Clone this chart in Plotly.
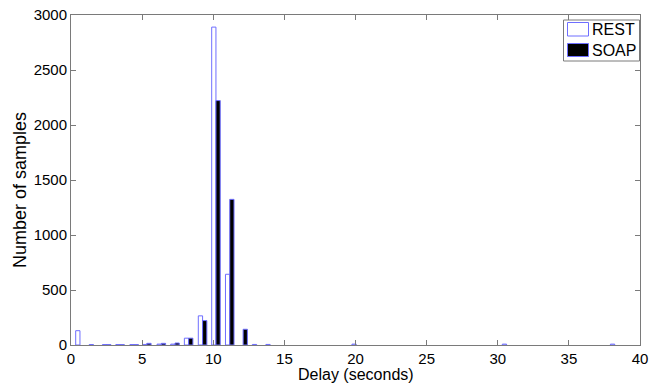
import plotly.graph_objects as go

# Bin centers (seconds) of the histogram groups that are drawn
bin_centers = [0.63, 1.58, 2.51, 3.45, 4.44, 5.33, 6.35, 7.31, 8.27, 9.25,
               10.19, 11.16, 12.10, 13.05, 14.00, 20.05, 30.62, 38.22]
rest_counts = [130, 4, 4, 4, 4, 5, 8, 8, 62, 265,
               2890, 643, None, 5, 5, 8, 8, 8]
soap_counts = [None, None, 3, 3, 3, 15, 15, 18, 62, 222,
               2222, 1324, 143, None, None, None, None, None]

x_ticks = [0, 5, 10, 15, 20, 25, 30, 35, 40]
y_ticks = [0, 500, 1000, 1500, 2000, 2500, 3000]
series_names = ["REST", "SOAP"]

BAR_W = 0.3
EDGE = "rgb(110,110,255)"
AX = "#7a7a7a"
FONT = "Liberation Sans, Arial, sans-serif"

# plot-area geometry in pixels (for paper-coordinate conversion)
L, R, T, B, W, H = 71, 10, 15, 38, 650, 383
PW, PH = W - L - R, H - T - B


def px(xpix):
    return (xpix - L) / PW


def py(ypix):
    return (H - B - ypix) / PH


fig = go.Figure()
fig.add_trace(go.Bar(
    x=bin_centers, y=rest_counts, name=series_names[0],
    width=BAR_W, offset=-BAR_W,
    marker=dict(color="white", line=dict(color=EDGE, width=1)),
))
fig.add_trace(go.Bar(
    x=bin_centers, y=soap_counts, name=series_names[1],
    width=BAR_W, offset=0,
    marker=dict(color="black", line=dict(color=EDGE, width=1)),
))

axis_common = dict(
    showgrid=False, zeroline=False, showline=True, linecolor=AX,
    linewidth=1, mirror="ticks", ticks="inside", ticklen=5,
    tickcolor=AX, tickfont=dict(family=FONT, size=15, color="black"),
    automargin=False,
)

shapes = [
    # legend box
    dict(type="rect", xref="paper", yref="paper",
         x0=px(563.5), x1=px(639.5), y0=py(61), y1=py(20),
         line=dict(color=AX, width=1), fillcolor="white"),
    # REST swatch
    dict(type="rect", xref="paper", yref="paper",
         x0=px(567.5), x1=px(588.5), y0=py(36), y1=py(22.5),
         line=dict(color=EDGE, width=1), fillcolor="white"),
    # SOAP swatch
    dict(type="rect", xref="paper", yref="paper",
         x0=px(567.5), x1=px(588.5), y0=py(56.5), y1=py(43.5),
         line=dict(color=EDGE, width=1), fillcolor="black"),
]

annotations = [
    dict(text=series_names[0], xref="paper", yref="paper", x=px(589.5), y=py(30),
         xanchor="left", yanchor="middle", showarrow=False,
         font=dict(family=FONT, size=16, color="black")),
    dict(text=series_names[1], xref="paper", yref="paper", x=px(589.5), y=py(50.5),
         xanchor="left", yanchor="middle", showarrow=False,
         font=dict(family=FONT, size=16, color="black")),
    dict(text="Delay (seconds)", xref="paper", yref="paper", x=px(355.5), y=py(374),
         xanchor="center", yanchor="middle", showarrow=False,
         font=dict(family=FONT, size=16, color="black")),
    dict(text="Number of samples", xref="paper", yref="paper", x=px(20), y=py(190),
         xanchor="center", yanchor="middle", showarrow=False, textangle=-90,
         font=dict(family=FONT, size=18, color="black")),
]

fig.update_layout(
    barmode="overlay",
    width=W, height=H,
    margin=dict(l=L, r=R, t=T, b=B),
    paper_bgcolor="white", plot_bgcolor="white",
    font=dict(family=FONT, size=15, color="black"),
    xaxis=dict(range=[0, 40], tickvals=x_ticks, ticktext=[str(v) for v in x_ticks],
               **axis_common),
    yaxis=dict(range=[0, 3000], tickvals=y_ticks, ticktext=[str(v) for v in y_ticks],
               **axis_common),
    showlegend=False,
    shapes=shapes,
    annotations=annotations,
)

fig.write_html("out.html")
